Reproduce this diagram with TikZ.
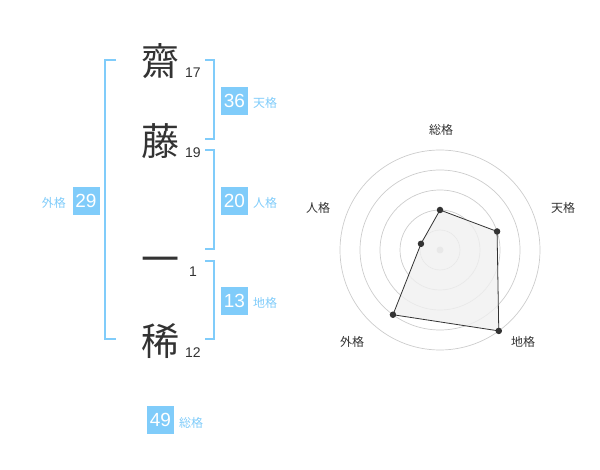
\documentclass[tikz,border=0pt]{standalone}
\usepackage{fontspec}
\usetikzlibrary{calc}
\setmainfont{Liberation Sans}
\newfontfamily\cjk{Noto Sans CJK JP}
\definecolor{kblue}{RGB}{128,204,250}
\definecolor{kdark}{RGB}{51,51,51}
\definecolor{kgrid}{RGB}{204,204,204}
\tikzset{
  kanji/.style={font=\cjk\fontsize{38}{38}\selectfont, text=kdark, inner sep=0pt, text height=33.4pt, text depth=4.6pt},
  strokes/.style={font=\fontsize{14}{14}\selectfont, text=kdark, inner sep=0pt},
  numbox/.style={fill=kblue, text=white, minimum width=27pt, minimum height=28pt, inner sep=0pt, font=\fontsize{19}{19}\selectfont},
  kaku/.style={text=kblue, font=\cjk\fontsize{12}{12}\selectfont, inner sep=0pt},
  brk/.style={draw=kblue, line width=2pt},
  axlabel/.style={text=kdark, font=\cjk\fontsize{12}{12}\selectfont, inner sep=0pt},
  dot/.style={circle, fill=kdark, inner sep=0pt, minimum size=6.5pt},
}
\begin{document}
\begin{tikzpicture}[x=1pt,y=-1pt]
\useasboundingbox (0,0) rectangle (600,470);
% characters
\node[kanji] (c1) at (160,61) {齋};
\node[kanji] (c2) at (160,141) {藤};
\node[kanji] (c3) at (160,259) {一};
\node[kanji] (c4) at (160,341) {稀};
\node[strokes] (s1) at (193,73) {17};
\node[strokes] (s2) at (193,153) {19};
\node[strokes] (s3) at (193,272) {1};
\node[strokes] (s4) at (193,353) {12};
% brackets
\draw[brk] (116,60) -- (105,60) -- (105,339) -- (116,339);
\draw[brk] (205,60) -- (214,60) -- (214,139) -- (205,139);
\draw[brk] (205,150) -- (214,150) -- (214,249) -- (205,249);
\draw[brk] (205,261) -- (214,261) -- (214,339) -- (205,339);
% boxes
\node[numbox] (ten) at (234.5,101) {36};
\node[kaku, anchor=west] (tenl) at (253,103) {天格};
\node[numbox] (jin) at (234.5,201) {20};
\node[kaku, anchor=west] (jinl) at (253,203) {人格};
\node[numbox] (chi) at (234.5,301) {13};
\node[kaku, anchor=west] (chil) at (253,303) {地格};
\node[numbox] (gai) at (86,201) {29};
\node[kaku, anchor=east] (gail) at (66,203) {外格};
\node[numbox] (sou) at (160.5,420) {49};
\node[kaku, anchor=west] (soul) at (179,423) {総格};
% radar
\coordinate (rc) at (440,250);
\foreach \r in {20,40,60,80,100} \draw[kgrid, line width=0.7pt] (rc) circle (\r pt);
\fill[kgrid] (rc) circle (3.5pt);
\coordinate (pS) at ($(rc)+(0,-40)$);
\path (rc) ++(-18:60) coordinate (pT);
\path (rc) ++(54:100) coordinate (pC);
\path (rc) ++(126:80) coordinate (pG);
\path (rc) ++(198:20) coordinate (pJ);
\filldraw[fill=black!6, fill opacity=0.8, draw=kdark, line width=0.8pt] (pS) -- (pT) -- (pC) -- (pG) -- (pJ) -- cycle;
\foreach \p in {pS,pT,pC,pG,pJ} \node[dot] at (\p) {};
\node[axlabel] (lS) at (441,130) {総格};
\node[axlabel] (lT) at (563,208) {天格};
\node[axlabel] (lC) at (523,342) {地格};
\node[axlabel] (lG) at (352,342) {外格};
\node[axlabel] (lJ) at (318,208) {人格};
\end{tikzpicture}
\end{document}
